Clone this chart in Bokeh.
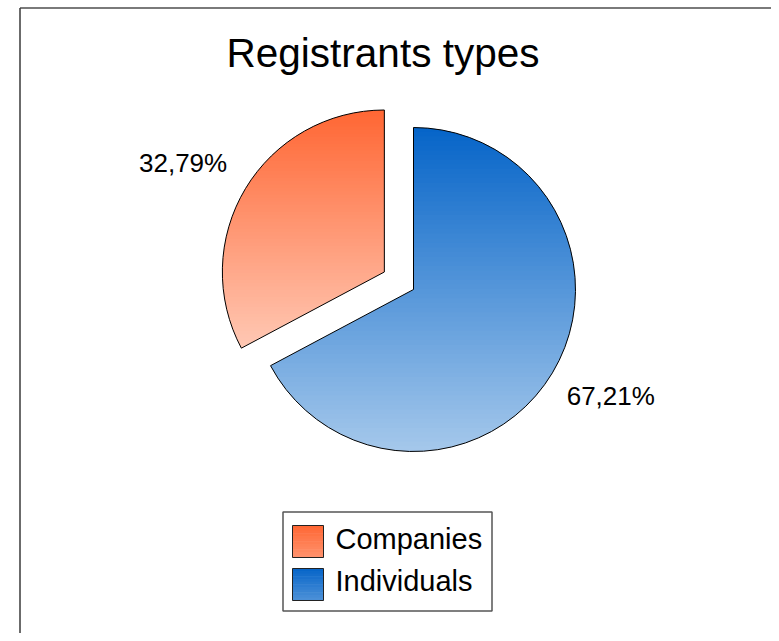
import numpy as np
from bokeh.plotting import figure
from bokeh.models import Range1d
from bokeh.embed import file_html
from bokeh.resources import INLINE
from bokeh.core.properties import value

# ---------------- data ----------------
title_text = "Registrants types"
categories = ["Companies", "Individuals"]
shares = [32.79, 67.21]
explode_px = [34, 0]
top_colors = [(255, 102, 51), (5, 100, 200)]
bottom_colors = [(255, 200, 180), (165, 200, 235)]

FONT = "Liberation Sans"
W, H = 771, 633
BASE_K = 0.41  # empirical baseline correction (fraction of font size)


def pg(x, y):
    """picture pixel -> data coordinate (1 data unit = 1 px)"""
    return x, H - y


def hexc(c):
    return "#%02x%02x%02x" % tuple(int(round(v)) for v in c)


def mix(c0, c1, t):
    return tuple(a + (b - a) * t for a, b in zip(c0, c1))


def clip_half(poly, inside, inter):
    out = []
    n = len(poly)
    for i in range(n):
        cur, prev = poly[i], poly[i - 1]
        if inside(cur):
            if not inside(prev):
                out.append(inter(prev, cur))
            out.append(cur)
        elif inside(prev):
            out.append(inter(prev, cur))
    return out


def yinter(yc):
    def f(a, b):
        t = (yc - a[1]) / (b[1] - a[1])
        return (a[0] + t * (b[0] - a[0]), yc)
    return f


def band(poly, y0, y1):
    q = clip_half(poly, lambda p: p[1] >= y0, yinter(y0))
    if not q:
        return q
    return clip_half(q, lambda p: p[1] <= y1, yinter(y1))


p = figure(width=W, height=H, x_range=Range1d(0, W), y_range=Range1d(0, H),
           output_backend="svg", toolbar_location=None, min_border=0)
p.axis.visible = False
p.grid.visible = False
p.outline_line_color = None
p.background_fill_color = "white"
p.border_fill_color = "white"


def put_text(x, y, s, size, align):
    p.text(x=[x], y=[y + BASE_K * size], text=[s], text_font=value(FONT),
           text_font_size=f"{size}px", text_align=align,
           text_baseline="alphabetic", text_color="black")


# frame lines of the chart area
fx0, fy0 = pg(19.5, 7.5)
p.segment(x0=[fx0, fx0], y0=[fy0, fy0], x1=[W, fx0], y1=[fy0, 0],
          line_color=["#7a7a7a", "#3a3a3a"], line_width=[2, 1.5])

# title
tx, ty = pg(382.5, 69)
put_text(tx, ty, title_text, 40.5, "center")

# ---------------- pie ----------------
cx, cy = pg(413, 289)
R = 162
total = sum(shares)
start = np.pi / 2
wx, wy, wa0, wa1 = [], [], [], []
for i, v in enumerate(shares):
    span = 2 * np.pi * v / total
    a0, a1 = start, start + span
    start = a1
    bis = (a0 + a1) / 2
    ox = cx + explode_px[i] * np.cos(bis)
    oy = cy + explode_px[i] * np.sin(bis)
    ts = np.linspace(a0, a1, 300)
    poly = [(ox, oy)] + [(ox + R * np.cos(t), oy + R * np.sin(t)) for t in ts]
    ymin = min(pt[1] for pt in poly)
    ymax = max(pt[1] for pt in poly)
    nb = 70
    edges = np.linspace(ymax, ymin, nb + 1)
    xs, ys, cols = [], [], []
    for k in range(nb):
        seg = band(poly, edges[k + 1] - 0.4, edges[k] + 0.4)
        if len(seg) < 3:
            continue
        xs.append([pt[0] for pt in seg])
        ys.append([pt[1] for pt in seg])
        cols.append(hexc(mix(top_colors[i], bottom_colors[i], (k + 0.5) / nb)))
    p.patches(xs, ys, fill_color=cols, line_color=None)
    wx.append(ox); wy.append(oy); wa0.append(a0); wa1.append(a1)

    # percentage label
    lab = f"{v:.2f}".replace(".", ",") + "%"
    ax = ox + (R + 19) * np.cos(bis)
    ay = oy + (R + 19) * np.sin(bis)
    align = "right" if np.cos(bis) < 0 else "left"
    lx = ax - 2
    ly = ay + 5 if np.sin(bis) > 0 else ay - 24
    put_text(lx, ly, lab, 26, align)

p.wedge(x=wx, y=wy, radius=R, start_angle=wa0, end_angle=wa1,
        fill_color=None, line_color="black", line_width=1)

# ---------------- legend ----------------
bl, bt = pg(282.5, 511.5)
br, bb = pg(491.5, 610.5)
p.quad(left=[bl], right=[br], top=[bt], bottom=[bb], fill_color="white",
       line_color="#555555", line_width=1.5)
sw_w, sw_h = 31, 32
for i, name in enumerate(categories):
    sl, st = pg(292, 525 + i * 43)
    nbs = 12
    qs_t, qs_b, qcols = [], [], []
    for k in range(nbs):
        qs_t.append(st - k * sw_h / nbs + 0.3)
        qs_b.append(st - (k + 1) * sw_h / nbs - 0.3)
        qcols.append(hexc(mix(top_colors[i], bottom_colors[i], 0.45 * (k + 0.5) / nbs)))
    p.quad(left=[sl] * nbs, right=[sl + sw_w] * nbs, top=qs_t, bottom=qs_b,
           fill_color=qcols, line_color=None)
    p.quad(left=[sl], right=[sl + sw_w], top=[st], bottom=[st - sw_h],
           fill_color=None, line_color="#222222", line_width=1)
    lx, ly = pg(335, 550 + i * 42)
    put_text(lx, ly, name, 29, "left")

open("out.html", "w").write(file_html(p, INLINE))
